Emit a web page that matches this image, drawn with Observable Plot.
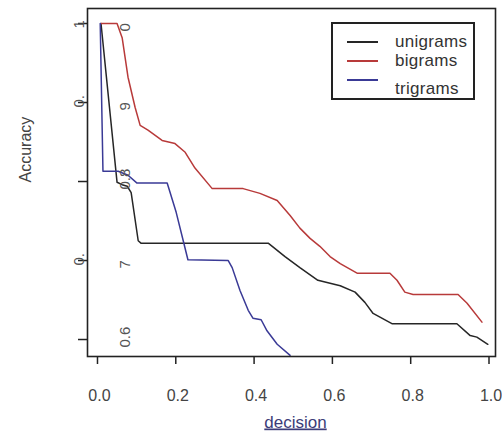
<!DOCTYPE html>
<html><head><meta charset="utf-8">
<script src="https://cdn.jsdelivr.net/npm/d3@7"></script>
<script src="https://cdn.jsdelivr.net/npm/@observablehq/plot@0.6"></script>
<style>
body{margin:0;background:#fff;}
#wrap{position:relative;width:502px;height:439px;font-family:"Liberation Sans",Arial,sans-serif;}
#legend{position:absolute;left:331px;top:22px;width:140px;height:74px;border:2px solid #222;background:#fff;}
.lg-line{position:absolute;left:14px;width:31px;height:2px;}
.lg-text{position:absolute;left:62px;height:18px;line-height:18px;font-size:17px;color:#333;letter-spacing:0.3px;}
</style></head>
<body><div id="wrap"><div id="chart"></div><div id="legend"></div></div>
<script>
// Series names and colours
const seriesNames = ["unigrams", "bigrams", "trigrams"];
const seriesColors = ["#262626", "#b83a3a", "#3a3a96"];

// unigrams
const uniX = [0.009,0.050,0.063,0.076,0.086,0.104,0.111,0.436,0.479,0.517,0.563,0.620,0.658,0.683,0.704,0.752,0.918,0.952,0.969,0.997];
const uniY = [1.000,0.799,0.796,0.794,0.786,0.725,0.722,0.722,0.705,0.691,0.675,0.668,0.660,0.647,0.633,0.620,0.620,0.605,0.603,0.594];

// bigrams
const biX = [0.009,0.050,0.063,0.078,0.096,0.109,0.129,0.165,0.198,0.224,0.249,0.293,0.372,0.415,0.459,0.492,0.517,0.543,0.568,0.594,0.620,0.663,0.747,0.765,0.785,0.806,0.921,0.944,0.982];
const biY = [1.000,1.000,0.982,0.932,0.894,0.871,0.865,0.852,0.848,0.837,0.817,0.791,0.791,0.785,0.776,0.757,0.741,0.728,0.718,0.705,0.696,0.684,0.684,0.675,0.660,0.657,0.657,0.646,0.622];

// trigrams
const triX = [0.007,0.014,0.053,0.078,0.101,0.178,0.201,0.219,0.231,0.334,0.344,0.364,0.385,0.397,0.418,0.433,0.459,0.492];
const triY = [1.000,0.813,0.813,0.808,0.798,0.798,0.761,0.725,0.701,0.700,0.691,0.662,0.637,0.627,0.625,0.611,0.594,0.580];

// axis ticks and labels
const xTicks = [0, 0.2, 0.4, 0.6, 0.8, 1.0];
const yTicks = [1.0, 0.9, 0.8, 0.7, 0.6];
const outerYLabels = ["1", "0.", "", "0.", ""];
const innerYLabels = ["0", "9", "0.8", "7", "0.6"];

const seriesX = [uniX, biX, triX];
const seriesY = [uniY, biY, triY];
const rows = seriesNames.flatMap((name, s) =>
  seriesX[s].map((x, i) => ({series: name, decision: x, accuracy: seriesY[s][i]})));

const chart = Plot.plot({
  width: 502, height: 439,
  marginLeft: 87, marginRight: 7, marginTop: 8, marginBottom: 83,
  x: {domain: [-0.0255, 1.0166]},
  y: {domain: [0.5785, 1.019]},
  color: {domain: seriesNames, range: seriesColors},
  style: {fontFamily: '"Liberation Sans", Arial, sans-serif', background: "white"},
  marks: [
    Plot.line(rows, {x: "decision", y: "accuracy", z: "series", stroke: "series", strokeWidth: 1.5}),
    Plot.frame({stroke: "#222", strokeWidth: 1.6}),
    Plot.axisX({ticks: xTicks, tickSize: 8, fill: "none", stroke: "#222", strokeWidth: 1.5, label: null}),
    Plot.axisX({ticks: xTicks, tickSize: 0, tickPadding: 33, dx: 2, tickFormat: d => d.toFixed(1), fontSize: 16, fill: "#444", label: null}),
    Plot.axisY({ticks: yTicks, tickSize: 9, fill: "none", stroke: "#222", strokeWidth: 1.5, label: null}),
    Plot.text(yTicks, {y: d => d, text: (d, i) => outerYLabels[i], frameAnchor: "left", dx: -8, dy: 5, rotate: -90, fontSize: 15, fill: "#555"}),
    Plot.text(yTicks, {y: d => d, text: (d, i) => innerYLabels[i], frameAnchor: "left", dx: 38, dy: 8, rotate: -90, fontSize: 15, fill: "#555"}),
    Plot.text(["Accuracy"], {frameAnchor: "left", dx: -62, rotate: -90, fontSize: 16, fill: "#444"}),
    Plot.text(["decision"], {frameAnchor: "bottom", dx: 4, dy: 71, fontSize: 17, fill: "#3c3c78"})
  ]
});
document.getElementById("chart").appendChild(chart);
d3.select(chart).selectAll("text").filter(function() { return this.textContent === "decision"; })
  .style("text-decoration", "underline");

// legend
const legend = document.getElementById("legend");
const lineTops = [17, 36, 55];
const textTops = [9, 28, 56];
seriesNames.forEach((name, i) => {
  const l = document.createElement("div");
  l.className = "lg-line"; l.style.top = lineTops[i] + "px"; l.style.background = seriesColors[i];
  legend.appendChild(l);
  const t = document.createElement("div");
  t.className = "lg-text"; t.style.top = textTops[i] + "px"; t.textContent = name;
  legend.appendChild(t);
});
</script></body></html>
